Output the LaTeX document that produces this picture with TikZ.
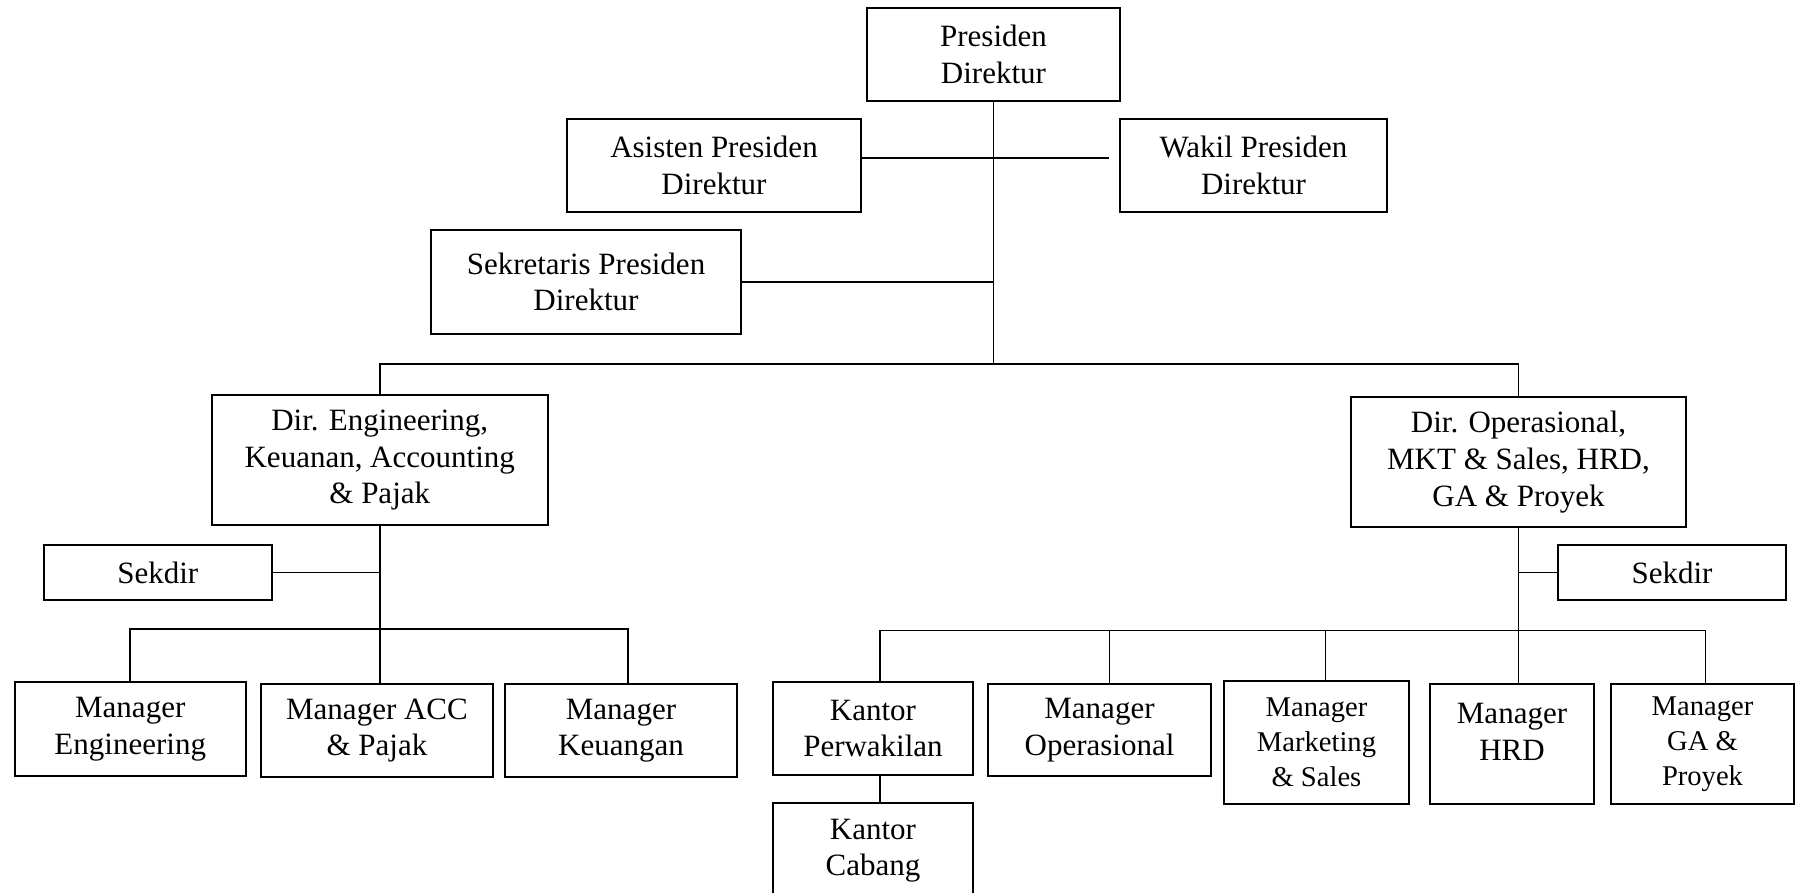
\documentclass[tikz,border=0pt]{standalone}
\usepackage{fontspec}
\setmainfont{Liberation Serif}
\usepackage{tikz}
\tikzset{
    orgbox/.style 2 args={
        draw, line width=1pt, inner sep=0pt, align=center,
        minimum width=#1*0.5pt, minimum height=#2*0.5pt,
        font=\fontsize{15.5}{18.3}\selectfont
    },
    smalltext/.style={font=\fontsize{14.3}{17.5}\selectfont},
    link/.style={line width=0.9pt}
}

\begin{document}
\begin{tikzpicture}[x=0.5pt, y=-0.5pt]

    \useasboundingbox (0,0) rectangle (1796,893);
    \clip (0,0) rectangle (1796,893);

    % Pimpinan
    \node[orgbox={253}{93}] (pd) at (993.5,54.5) {Presiden\\Direktur};
    \node[orgbox={294}{93}] (ap) at (714,165.5) {Asisten Presiden\\Direktur};
    \node[orgbox={267}{93}] (wp) at (1253.5,165.5) {Wakil Presiden\\Direktur};
    \node[orgbox={310}{104}] (sp) at (586,282) {Sekretaris Presiden\\Direktur};

    % Direktur
    \node[orgbox={335.5}{130.5}] (de) at (379.75,460.25)
        {Dir. Engineering,\\Keuanan, Accounting\\\& Pajak};
    \node[orgbox={335}{130}] (do) at (1518.5,462)
        {Dir. Operasional,\\MKT \& Sales, HRD,\\GA \& Proyek};
    \node[orgbox={227.5}{55}] (sk1) at (157.75,572.5) {Sekdir};
    \node[orgbox={228}{55}] (sk2) at (1672,572.5) {Sekdir};

    % Manager kiri
    \node[orgbox={231.5}{94}] (me) at (130.25,729) {Manager\\Engineering};
    \node[orgbox={232}{93}] (mac) at (377,730.5) {Manager ACC\\\& Pajak};
    \node[orgbox={232}{93}] (mk) at (621,730.5) {Manager\\Keuangan};

    % Manager kanan
    \node[orgbox={200}{93}] (kp) at (873,728.5) {Kantor\\Perwakilan};
    \node[orgbox={223}{92}] (mo) at (1099.5,730) {Manager\\Operasional};
    \node[orgbox={185}{123}, smalltext] (mm) at (1316.5,742.5)
        {Manager\\Marketing\\\& Sales};
    \node[orgbox={164}{120}] (mh) at (1512,744) {Manager\\HRD\\[-6pt]\mbox{}};
    \node[orgbox={183}{120}, smalltext] (mg) at (1702.5,744)
        {Manager\\GA \&\\Proyek};
    \node[orgbox={200}{95}] (kc) at (873,850.75) {Kantor\\Cabang};

    % Garis
    \coordinate (bus) at (996,364);
    \coordinate (busL) at (0,629);
    \coordinate (busR) at (0,630.5);

    \draw[link] (pd.south) -- (pd.south |- bus);
    \draw[link] ([yshift=3.75pt]ap.east) -- ([yshift=3.75pt, xshift=-5pt]wp.west);
    \draw[link] (sp.east) -- (sp.east -| pd.south);
    \draw[link] (de.north) |- (bus) -| (do.north);

    \draw[link] (de.south) -- (de.south |- mac.north);
    \draw[link] (sk1.east) -- (sk1.east -| de.south);
    \draw[link] (me.north) |- (de.south |- busL) -| ([xshift=3.5pt]mk.north);

    \draw[link] (do.south) -- (do.south |- mh.north);
    \draw[link] (sk2.west) -- (sk2.west -| do.south);
    \draw[link] ([xshift=3.5pt]kp.north) |- (do.south |- busR)
        -| ([xshift=1.5pt]mg.north);
    \draw[link] ([xshift=5pt]mo.north) -- ([xshift=5pt]mo.north |- busR);
    \draw[link] ([xshift=4.5pt]mm.north) -- ([xshift=4.5pt]mm.north |- busR);
    \draw[link] ([xshift=3.5pt]kp.south) -- ([xshift=3.5pt]kc.north);

\end{tikzpicture}
\end{document}
